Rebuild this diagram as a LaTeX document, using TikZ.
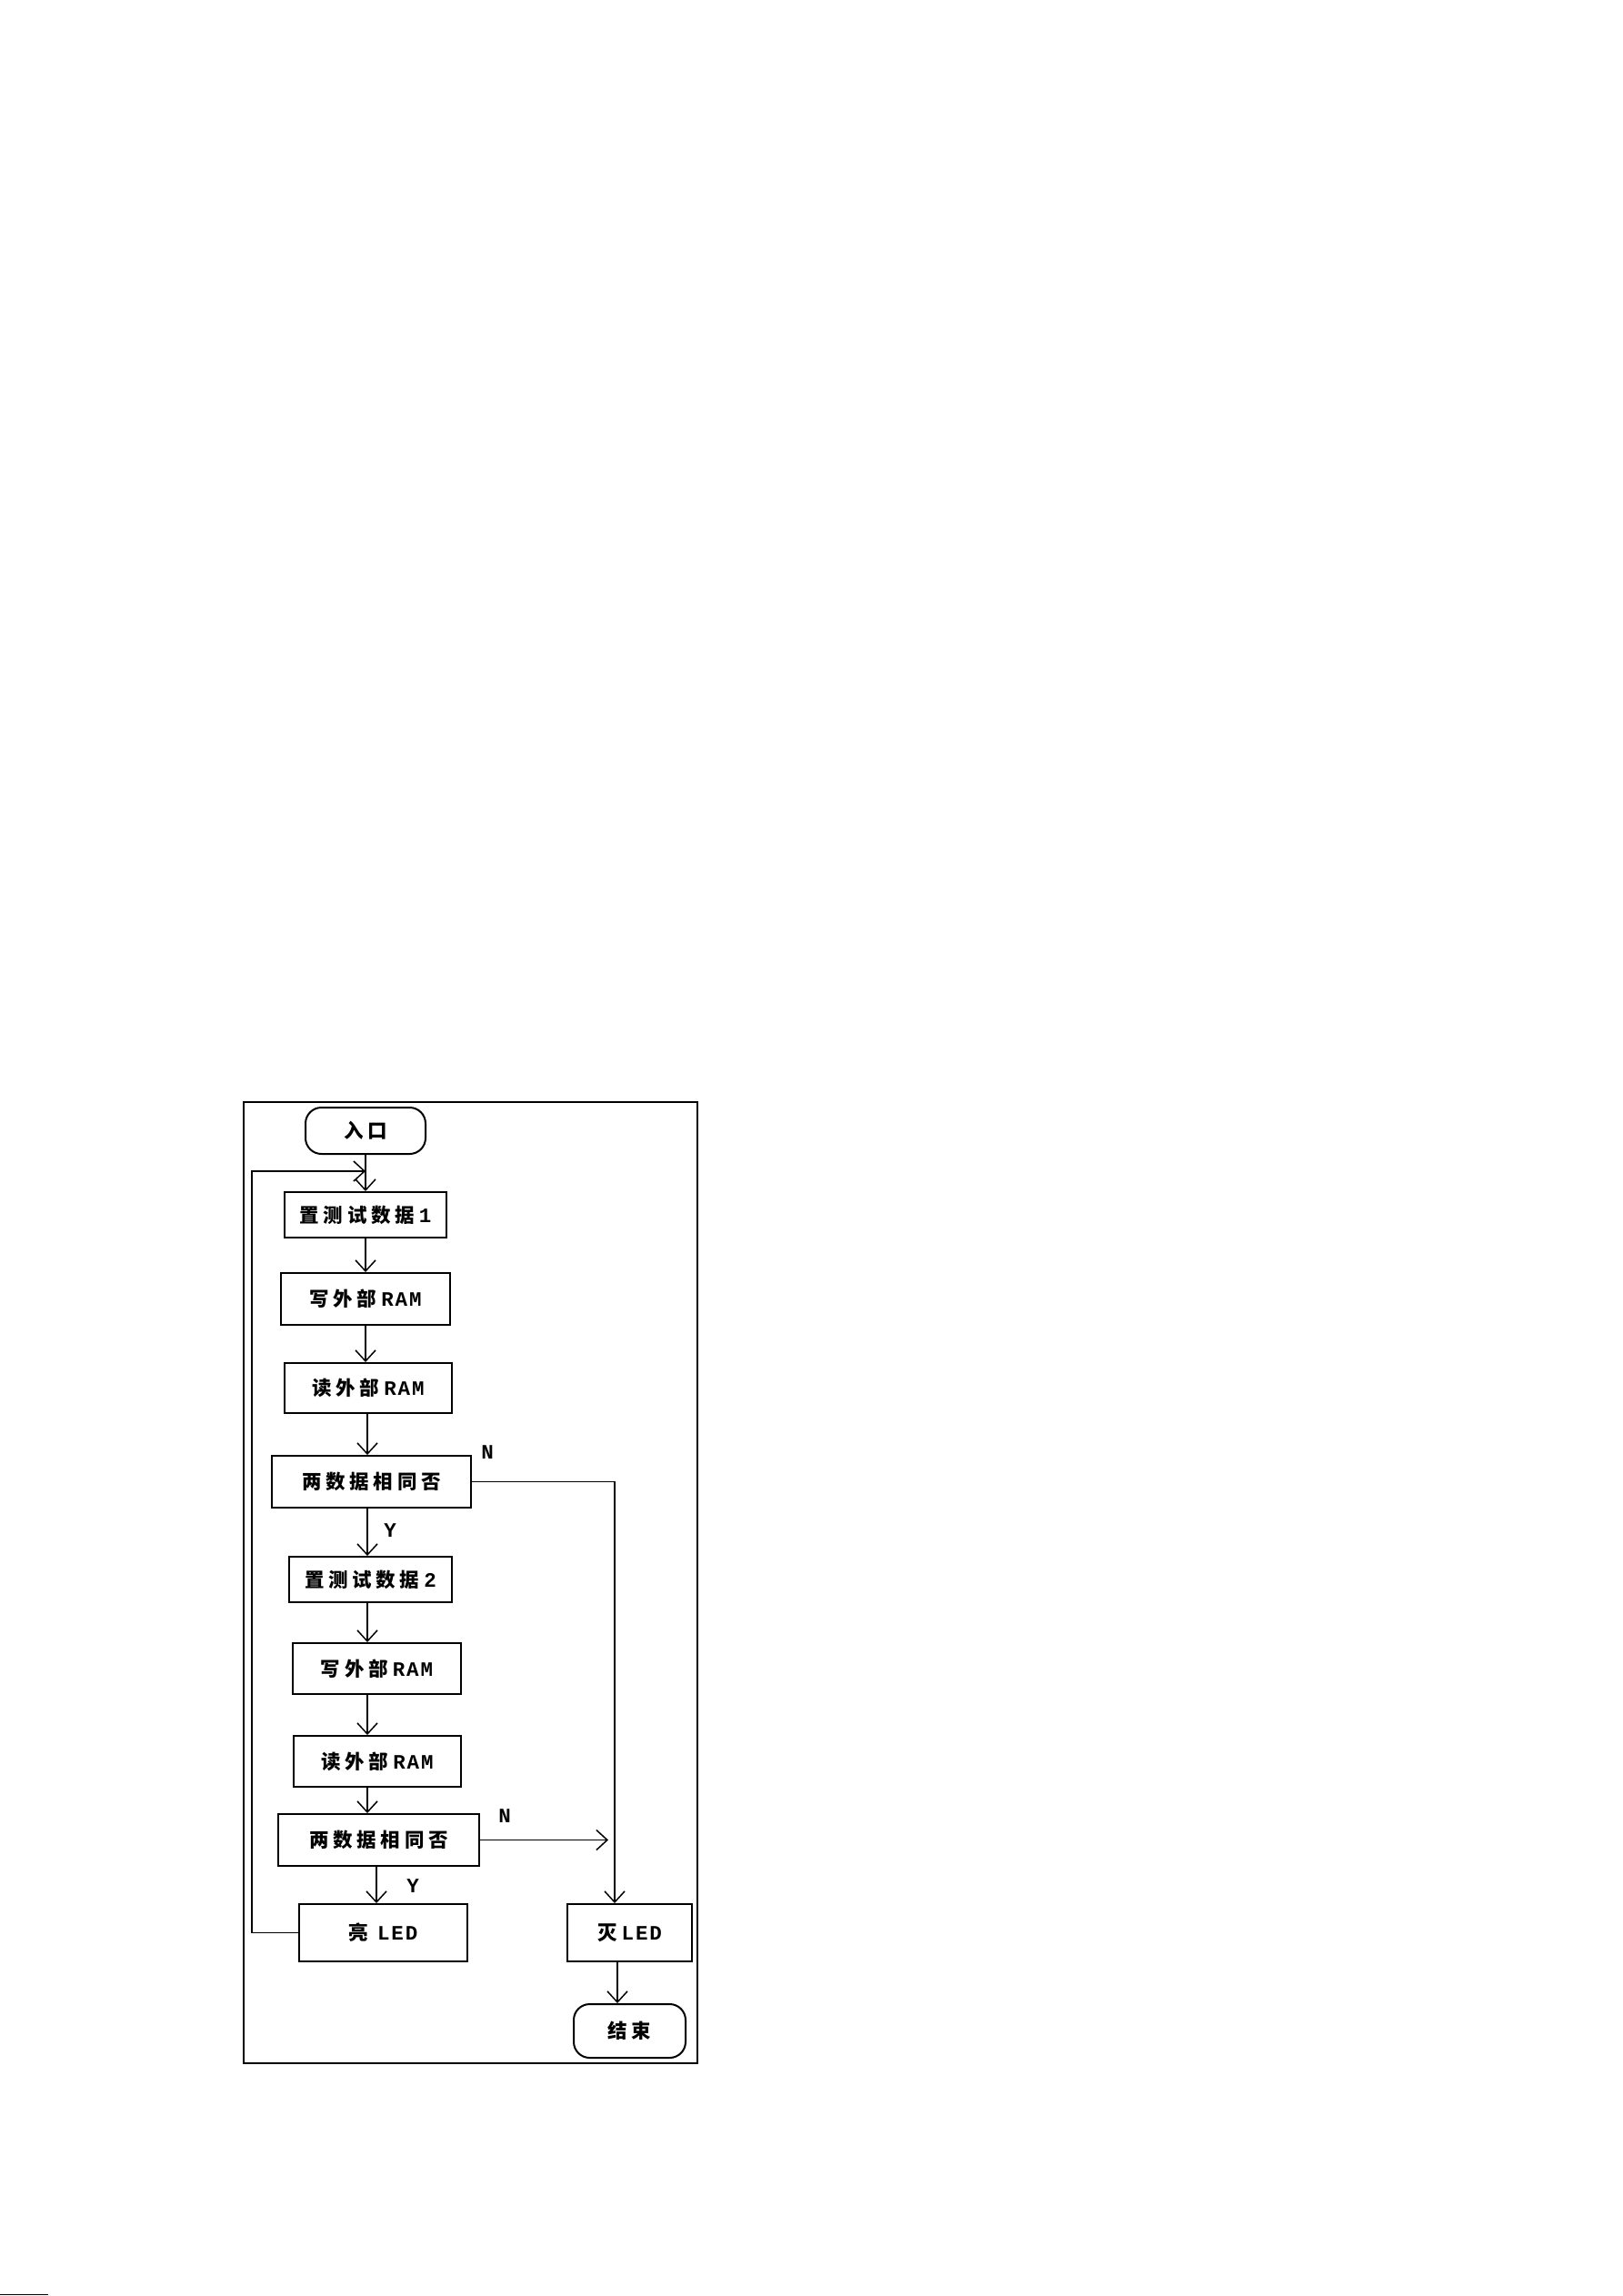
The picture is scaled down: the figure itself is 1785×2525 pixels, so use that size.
\documentclass[tikz,border=0pt]{standalone}
\usepackage{fontspec}
\usetikzlibrary{arrows.meta}
\newfontfamily\cjk[LetterSpace=22]{Noto Sans CJK SC}
\newfontfamily\latf[LetterSpace=8]{Liberation Mono}
\newcommand{\zh}[1]{{\cjk\bfseries #1}}
\newcommand{\en}[1]{\hspace{2pt}{\latf\bfseries\fontsize{9pt}{9pt}\selectfont #1}}
\tikzset{
box/.style={draw, line width=0.8pt, inner sep=0pt, font=\fontsize{8.6pt}{10pt}\selectfont},
term/.style={box, rounded corners=7pt},
flow/.style={line width=0.6pt, -{Straight Barb[length=4.8pt,width=8.8pt,line width=0.6pt]}},
yn/.style={inner sep=0pt, font=\fontsize{9pt}{9pt}\latf\bfseries}}

\begin{document}
\begin{tikzpicture}[x=0.4pt,y=0.4pt,yscale=-1,xscale=1]
\useasboundingbox (0,0) rectangle (1785,2525);

%Shape: Rectangle (frame)
\draw [line width=0.8pt] (268,1212) rectangle (767,2269);
\draw [line width=0.4pt] (0,2523.5) -- (53,2523.5);

%Shape: Terminals and boxes
\node [term, minimum width=52.8pt, minimum height=20.4pt] (entry) at (402,1243.5) {\zh{入口}};
\node [box, minimum width=71.2pt, minimum height=20pt] (set1) at (402,1336) {\zh{置测试数据}\en{1}};
\node [box, minimum width=74.4pt, minimum height=22.8pt] (wr1) at (402,1428.5) {\zh{写外部}\en{RAM}};
\node [box, minimum width=73.6pt, minimum height=22pt] (rd1) at (405,1526.5) {\zh{读外部}\en{RAM}};
\node [box, minimum width=87.6pt, minimum height=22.8pt] (cmp1) at (408.5,1629.5) {\zh{两数据相同否}};
\node [box, minimum width=71.6pt, minimum height=20pt] (set2) at (407.5,1737) {\zh{置测试数据}\en{2}};
\node [box, minimum width=74pt, minimum height=22.4pt] (wr2) at (414.5,1835) {\zh{写外部}\en{RAM}};
\node [box, minimum width=73.6pt, minimum height=22.4pt] (rd2) at (415,1937) {\zh{读外部}\en{RAM}};
\node [box, minimum width=88.4pt, minimum height=22.8pt] (cmp2) at (416.5,2023.5) {\zh{两数据相同否}};
\node [box, minimum width=74pt, minimum height=25.2pt] (ledon) at (421.5,2125.5) {\zh{亮}\hspace{2pt}\en{LED}};
\node [box, minimum width=54.8pt, minimum height=25.2pt] (ledoff) at (692.5,2125.5) {\zh{灭}\en{LED}};
\node [term, minimum width=49.2pt, minimum height=23.6pt] (stop) at (692.5,2233.5) {\zh{结束}};

%Coordinates for the lines
\coordinate (sp) at (404,0);
\coordinate (sq) at (414,0);
\coordinate (nx) at (676,0);
\coordinate (ex) at (679,0);
\coordinate (lp) at (277,0);
\coordinate (join) at (402,1288);

%Straight Lines
\draw [flow] (entry.south) -- (set1.north);
\draw [flow] (set1.south) -- (wr1.north);
\draw [flow] (wr1.south) -- (wr1.south |- rd1.north);
\draw [flow] (rd1.south -| sp) -- (cmp1.north -| sp);
\draw [flow] (cmp1.south -| sp) -- (set2.north -| sp);
\draw [flow] (set2.south -| sp) -- (wr2.north -| sp);
\draw [flow] (wr2.south -| sp) -- (rd2.north -| sp);
\draw [flow] (rd2.south -| sp) -- (cmp2.north -| sp);
\draw [flow] (cmp2.south -| sq) -- (ledon.north -| sq);
\draw [flow] (cmp1.east) -- (cmp1.east -| nx) -- (nx |- ledoff.north);
\draw [flow, shorten >=2.8pt] (cmp2.east) -- (cmp2.east -| nx);
\draw [flow] (ledon.west) -- (ledon.west -| lp) -- (lp |- join) -- (join);
\draw [flow] (ledoff.south -| ex) -- (stop.north -| ex);

% Text Node
\node [yn] (n1) at (536,1597) {N};
% Text Node
\node [yn] (y1) at (429,1683) {Y};
% Text Node
\node [yn] (n2) at (555,1997) {N};
% Text Node
\node [yn] (y2) at (454,2074) {Y};

\end{tikzpicture}
\end{document}
